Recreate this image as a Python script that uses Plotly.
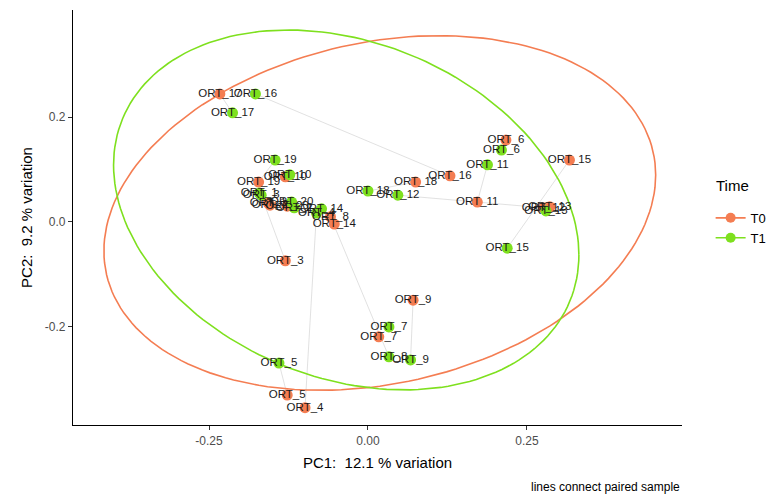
import numpy as np
import plotly.graph_objects as go

samples = [f"ORT_{i}" for i in range(1, 21)]

pc1_t0 = [-0.157, -0.154, -0.130, -0.099, -0.127, 0.217, 0.017, -0.059, 0.071, -0.130,
          0.172, 0.276, 0.286, -0.053, 0.317, 0.129, -0.233, 0.075, -0.172, -0.127]
pc2_t0 = [0.036, 0.032, -0.074, -0.354, -0.330, 0.156, -0.219, 0.010, -0.149, 0.086,
          0.038, 0.027, 0.029, -0.004, 0.118, 0.088, 0.244, 0.076, 0.076, 0.030]

pc1_t1 = [-0.171, -0.116, -0.168, -0.081, -0.140, 0.210, 0.033, 0.033, 0.067, -0.123,
          0.188, 0.047, 0.280, -0.073, 0.219, -0.177, -0.213, 0.000, -0.146, -0.120]
pc2_t1 = [0.055, 0.027, 0.051, 0.017, -0.269, 0.137, -0.200, -0.257, -0.263, 0.090,
          0.109, 0.051, 0.021, 0.025, -0.050, 0.244, 0.208, 0.059, 0.118, 0.038]

groups = ["T0", "T1"]
colors = {"T0": "#F47D52", "T1": "#7EE01E"}

# 95% confidence ellipses (data units):
# centre, half-width, half-height, and vertical offset of the right-most point
ellipse_cx = {"T0": 0.0186, "T1": -0.0342}
ellipse_cy = {"T0": 0.0171, "T1": 0.0229}
ellipse_hw = {"T0": 0.434, "T1": 0.366}
ellipse_hh = {"T0": 0.338, "T1": 0.343}
ellipse_ry = {"T0": 0.0724, "T1": -0.0857}

x_ticks = [-0.25, 0.0, 0.25]
x_ticklabels = ["-0.25", "0.00", "0.25"]
y_ticks = [-0.2, 0.0, 0.2]
y_ticklabels = ["-0.2", "0.0", "0.2"]


def ellipse(g, segments=180):
    t = np.linspace(0, 2 * np.pi, segments + 1)
    d = np.sqrt(ellipse_hh[g] ** 2 - ellipse_ry[g] ** 2)
    ex = ellipse_cx[g] + ellipse_hw[g] * np.cos(t)
    ey = ellipse_cy[g] + ellipse_ry[g] * np.cos(t) + d * np.sin(t)
    return ex, ey


fig = go.Figure()

lx, ly = [], []
for i in range(len(samples)):
    lx += [pc1_t0[i], pc1_t1[i], None]
    ly += [pc2_t0[i], pc2_t1[i], None]
fig.add_trace(go.Scatter(x=lx, y=ly, mode="lines", line=dict(color="#d4d4d4", width=0.7),
                         showlegend=False, hoverinfo="skip"))

data = {"T0": (pc1_t0, pc2_t0), "T1": (pc1_t1, pc2_t1)}
for g in groups:
    ex, ey = ellipse(g)
    fig.add_trace(go.Scatter(x=ex, y=ey, mode="lines", line=dict(color=colors[g], width=1.6),
                             showlegend=False, hoverinfo="skip"))

for g in groups:
    px_, py_ = data[g]
    fig.add_trace(go.Scatter(x=px_, y=py_, mode="markers",
                             marker=dict(color=colors[g], size=11, line=dict(width=0)),
                             showlegend=False))

for g in groups:
    px_, py_ = data[g]
    fig.add_trace(go.Scatter(x=px_, y=py_, mode="text", text=samples,
                             textposition="middle center",
                             textfont=dict(family="Liberation Sans, Arial", size=11.5, color="#1a1a1a"),
                             showlegend=False, hoverinfo="skip"))

for g in groups:
    fig.add_trace(go.Scatter(x=[None], y=[None], mode="lines+markers", name=g,
                             marker=dict(color=colors[g], size=10),
                             line=dict(color=colors[g], width=1.6)))

fig.update_layout(
    width=766, height=489,
    margin=dict(l=65, r=84, t=2, b=72),
    plot_bgcolor="white", paper_bgcolor="white",
    font=dict(family="Liberation Sans, Arial", color="#000"),
    legend=dict(font=dict(size=13), x=1.047, xanchor="left", y=0.475, yanchor="middle",
                tracegroupgap=0),
    xaxis=dict(range=[-0.464, 0.494], tickvals=x_ticks, ticktext=x_ticklabels,
               showgrid=False, zeroline=False, showline=True, linecolor="black", linewidth=1.2,
               ticks="outside", ticklen=4, tickcolor="#333",
               tickfont=dict(size=12, color="#4d4d4d"),
               title=dict(text="PC1:  12.1 % variation", font=dict(size=15), standoff=10)),
    yaxis=dict(range=[-0.387, 0.404], tickvals=y_ticks, ticktext=y_ticklabels,
               showgrid=False, zeroline=False, showline=True, linecolor="black", linewidth=1.2,
               ticks="outside", ticklen=4, tickcolor="#333",
               tickfont=dict(size=12, color="#4d4d4d"),
               title=dict(text="PC2:  9.2 % variation", font=dict(size=15), standoff=8)),
    annotations=[
        dict(text="Time", xref="paper", yref="paper", x=1.052, y=0.578,
             xanchor="left", yanchor="middle", showarrow=False, font=dict(size=15)),
        dict(text="lines connect paired sample", xref="paper", yref="paper",
             x=1.0, y=-0.15, xanchor="right", yanchor="middle", showarrow=False,
             font=dict(size=12, color="#000"))],
)

fig.write_html("out.html")
